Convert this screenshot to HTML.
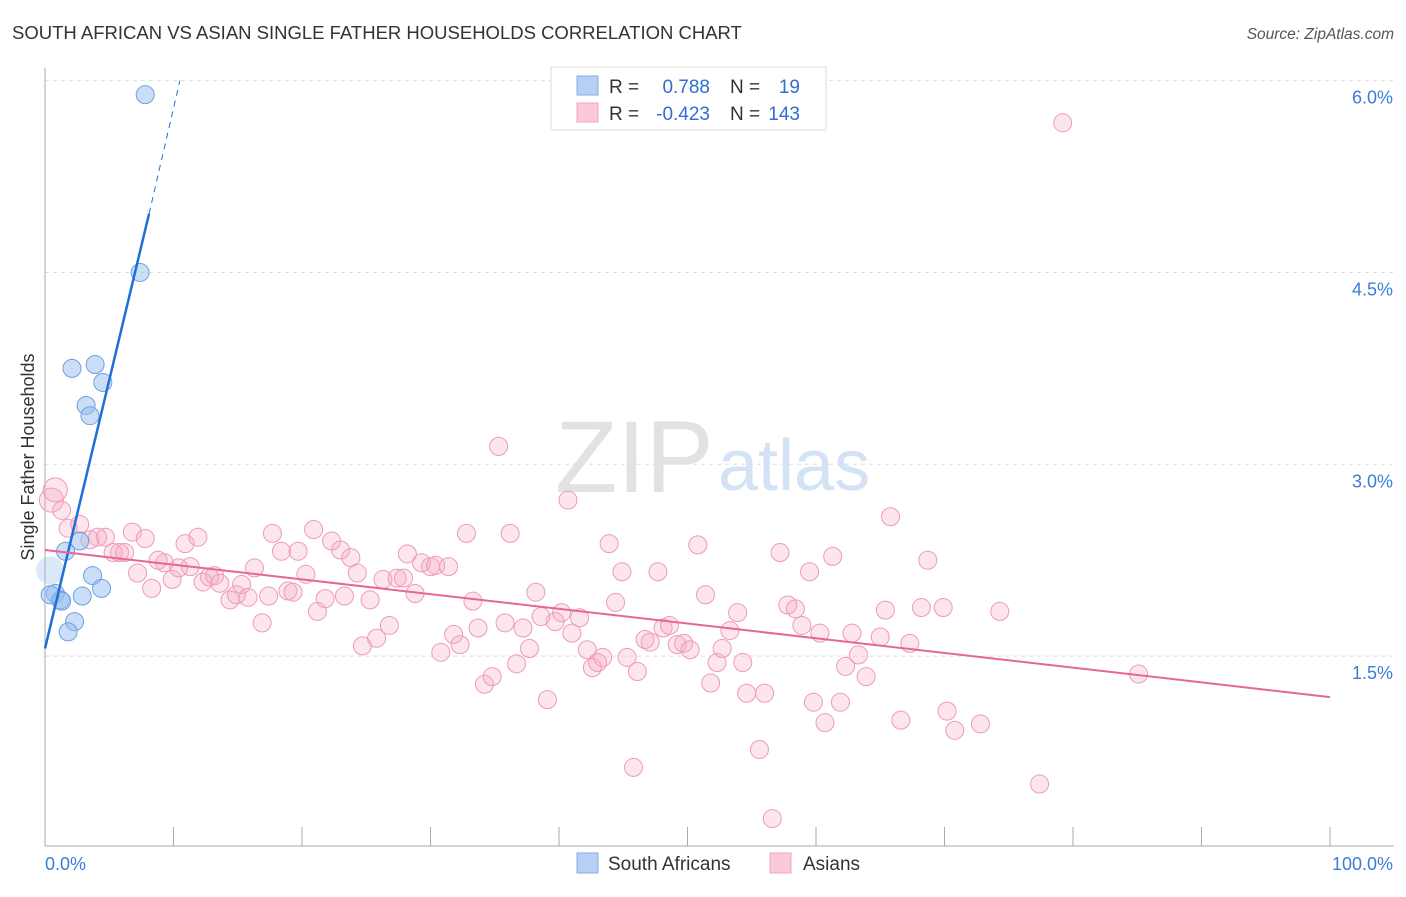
<!DOCTYPE html>
<html><head><meta charset="utf-8"><style>
body{margin:0;background:#fff;font-family:"Liberation Sans",sans-serif}
svg text{font-family:"Liberation Sans",sans-serif}
</style></head><body>
<svg id="chart" width="1406" height="892" viewBox="0 0 1406 892" xmlns="http://www.w3.org/2000/svg">
<text x="12" y="39" font-size="18.5" fill="#333">SOUTH AFRICAN VS ASIAN SINGLE FATHER HOUSEHOLDS CORRELATION CHART</text>
<text x="1394" y="39" font-size="15.5" fill="#555" text-anchor="end" font-style="italic">Source: ZipAtlas.com</text>
<g>
<text x="555" y="492" font-size="102" font-family="Liberation Serif" fill="#e2e2e2">ZIP</text>
<text x="718" y="490" font-size="72" fill="#d3e2f5">atlas</text>
</g>
<g id="grid"></g>
<g id="axes"></g>
<g id="marks"></g>
<g>
<rect x="551" y="67" width="275" height="63" fill="#fff" stroke="#ddd"/>
<rect x="577" y="76" width="21" height="19" fill="#b6d0f5" stroke="#86aee6"/>
<rect x="577" y="103" width="21" height="19" fill="#fbc9d8" stroke="#f0a4bd"/>
<text x="609" y="93" font-size="19" fill="#333">R =</text>
<text x="710" y="93" font-size="19" fill="#2f6fd0" text-anchor="end">0.788</text>
<text x="730" y="93" font-size="19" fill="#333">N =</text>
<text x="800" y="93" font-size="19" fill="#2f6fd0" text-anchor="end">19</text>
<text x="609" y="120" font-size="19" fill="#333">R =</text>
<text x="710" y="120" font-size="19" fill="#2f6fd0" text-anchor="end">-0.423</text>
<text x="730" y="120" font-size="19" fill="#333">N =</text>
<text x="800" y="120" font-size="19" fill="#2f6fd0" text-anchor="end">143</text>
</g>
<g>
<rect x="577" y="853" width="21" height="20" fill="#b6d0f5" stroke="#86aee6"/>
<text x="608" y="870" font-size="19" fill="#333">South Africans</text>
<rect x="770" y="853" width="21" height="20" fill="#fbc9d8" stroke="#f0a4bd"/>
<text x="803" y="870" font-size="19" fill="#333">Asians</text>
</g>
<text transform="translate(34,457) rotate(-90)" font-size="18" fill="#333" text-anchor="middle">Single Father Households</text>
</svg>
<script>
const blueX=[7.8,7.4,2.1,3.9,4.5,3.2,3.5,1.6,2.7,3.7,4.4,2.9,0.8,1.2,1.3,2.3,1.8,0.4,0.4];
const blueY=[5.89,4.50,3.75,3.78,3.64,3.46,3.38,2.32,2.40,2.13,2.03,1.97,1.99,1.94,1.93,1.77,1.69,2.17,1.98];
const pinkX=[0.5,0.8,1.3,1.8,2.7,3.5,4.1,4.7,5.3,5.8,6.2,6.8,7.2,7.8,8.3,8.8,9.3,9.9,10.4,10.9,11.3,11.9,12.3,12.8,13.2,13.6,14.4,14.9,15.3,15.8,16.3,16.9,17.4,17.7,18.4,18.9,19.3,19.7,20.3,21.2,20.9,21.8,22.3,23.0,23.3,23.8,24.3,24.7,25.3,25.8,26.3,26.8,27.4,27.9,28.2,28.8,29.3,30.0,30.4,30.8,31.4,31.8,32.3,32.8,33.3,33.7,34.2,34.8,35.3,35.8,36.2,36.7,37.2,37.7,38.2,38.6,39.1,39.7,40.2,40.7,41.0,41.6,42.2,42.6,43.0,43.4,43.9,44.4,44.9,45.3,45.8,46.1,46.7,47.1,47.7,48.1,48.6,49.2,49.7,50.2,50.8,51.4,51.8,52.3,52.7,53.3,53.9,54.3,54.6,55.6,56.0,56.6,57.2,57.8,58.4,58.9,59.5,59.8,60.3,60.7,61.3,61.9,62.3,62.8,63.3,63.9,65.0,65.4,65.8,66.6,67.3,68.2,68.7,69.9,70.2,70.8,72.8,74.3,77.4,79.2,85.1];
const pinkY=[2.72,2.80,2.64,2.50,2.53,2.41,2.43,2.43,2.31,2.31,2.31,2.47,2.15,2.42,2.03,2.25,2.23,2.10,2.19,2.38,2.20,2.43,2.08,2.12,2.13,2.07,1.94,1.98,2.06,1.96,2.19,1.76,1.97,2.46,2.32,2.01,2.00,2.32,2.14,1.85,2.49,1.95,2.40,2.33,1.97,2.27,2.15,1.58,1.94,1.64,2.10,1.74,2.11,2.11,2.30,1.99,2.23,2.20,2.21,1.53,2.20,1.67,1.59,2.46,1.93,1.72,1.28,1.34,3.14,1.76,2.46,1.44,1.72,1.56,2.00,1.81,1.16,1.77,1.84,2.72,1.68,1.80,1.55,1.41,1.45,1.49,2.38,1.92,2.16,1.49,0.63,1.38,1.63,1.61,2.16,1.72,1.74,1.59,1.60,1.55,2.37,1.98,1.29,1.45,1.56,1.70,1.84,1.45,1.21,0.77,1.21,0.23,2.31,1.90,1.87,1.74,2.16,1.14,1.68,0.98,2.28,1.14,1.42,1.68,1.51,1.34,1.65,1.86,2.59,1.00,1.60,1.88,2.25,1.88,1.07,0.92,0.97,1.85,0.50,5.67,1.36];
const yTicks=[1.5,3.0,4.5,6.0];
const yTickLabels=["1.5%","3.0%","4.5%","6.0%"];
const xTicks=[10,20,30,40,50,60,70,80,90,100];
const blueTrend=[[0,1.56],[8.1,4.96],[10.5,6.0]];
const pinkTrend=[[0,2.33],[100,1.18]];
const NS="http://www.w3.org/2000/svg";
const X=v=>45+v*12.85, Y=v=>848-v*127.9;
function mk(t,a,p){const e=document.createElementNS(NS,t);for(const k in a)e.setAttribute(k,a[k]);p.appendChild(e);return e;}
const grid=document.getElementById('grid'),axes=document.getElementById('axes'),marks=document.getElementById('marks');
yTicks.forEach((v,i)=>{
 const l=mk('line',{x1:45,x2:1394,y1:Y(v),y2:Y(v),stroke:'#ddd','stroke-dasharray':'4,4'},grid);
 
 
 const t=mk('text',{x:1393,y:Y(v)+23,'font-size':18,fill:'#3b7dd8','text-anchor':'end'},axes);
 t.textContent=yTickLabels[i];
 
 
});
mk('line',{x1:45,x2:45,y1:68,y2:846,stroke:'#aaa'},axes);
mk('line',{x1:45,x2:1394,y1:846,y2:846,stroke:'#aaa'},axes);
xTicks.forEach(v=>{const l=mk('line',{x1:X(v),x2:X(v),y1:827,y2:846,stroke:'#aaa'},axes);
 
 });
let t0=mk('text',{x:45,y:870,'font-size':18,fill:'#3b7dd8'},axes);t0.textContent='0.0%';


let t1=mk('text',{x:1393,y:870,'font-size':18,fill:'#3b7dd8','text-anchor':'end'},axes);t1.textContent='100.0%';


pinkX.forEach((x,i)=>{const c=mk('circle',{cx:X(x),cy:Y(pinkY[i]),r:i<2?12:9,fill:'rgba(246,170,196,0.3)',stroke:'#ef9ab7','stroke-width':1},marks);
 
 });
blueX.forEach((x,i)=>{const big=i==17;const c=mk('circle',{cx:X(x),cy:Y(blueY[i]),r:big?14:9,fill:big?'rgba(150,190,240,0.35)':'rgba(150,190,240,0.5)',stroke:big?'none':'#6f9fe0','stroke-width':1},marks);
 
 });
let bl=mk('line',{x1:X(blueTrend[0][0]),y1:Y(blueTrend[0][1]),x2:X(blueTrend[1][0]),y2:Y(blueTrend[1][1]),stroke:'#1f6fd6','stroke-width':2.5},marks);


let bd=mk('line',{x1:X(blueTrend[1][0]),y1:Y(blueTrend[1][1]),x2:X(blueTrend[2][0]),y2:Y(blueTrend[2][1]),stroke:'#1f6fd6','stroke-width':1,'stroke-dasharray':'6,5'},marks);


let pl=mk('line',{x1:X(pinkTrend[0][0]),y1:Y(pinkTrend[0][1]),x2:X(pinkTrend[1][0]),y2:Y(pinkTrend[1][1]),stroke:'#e8659a','stroke-width':2},marks);


</script>
</body></html>
